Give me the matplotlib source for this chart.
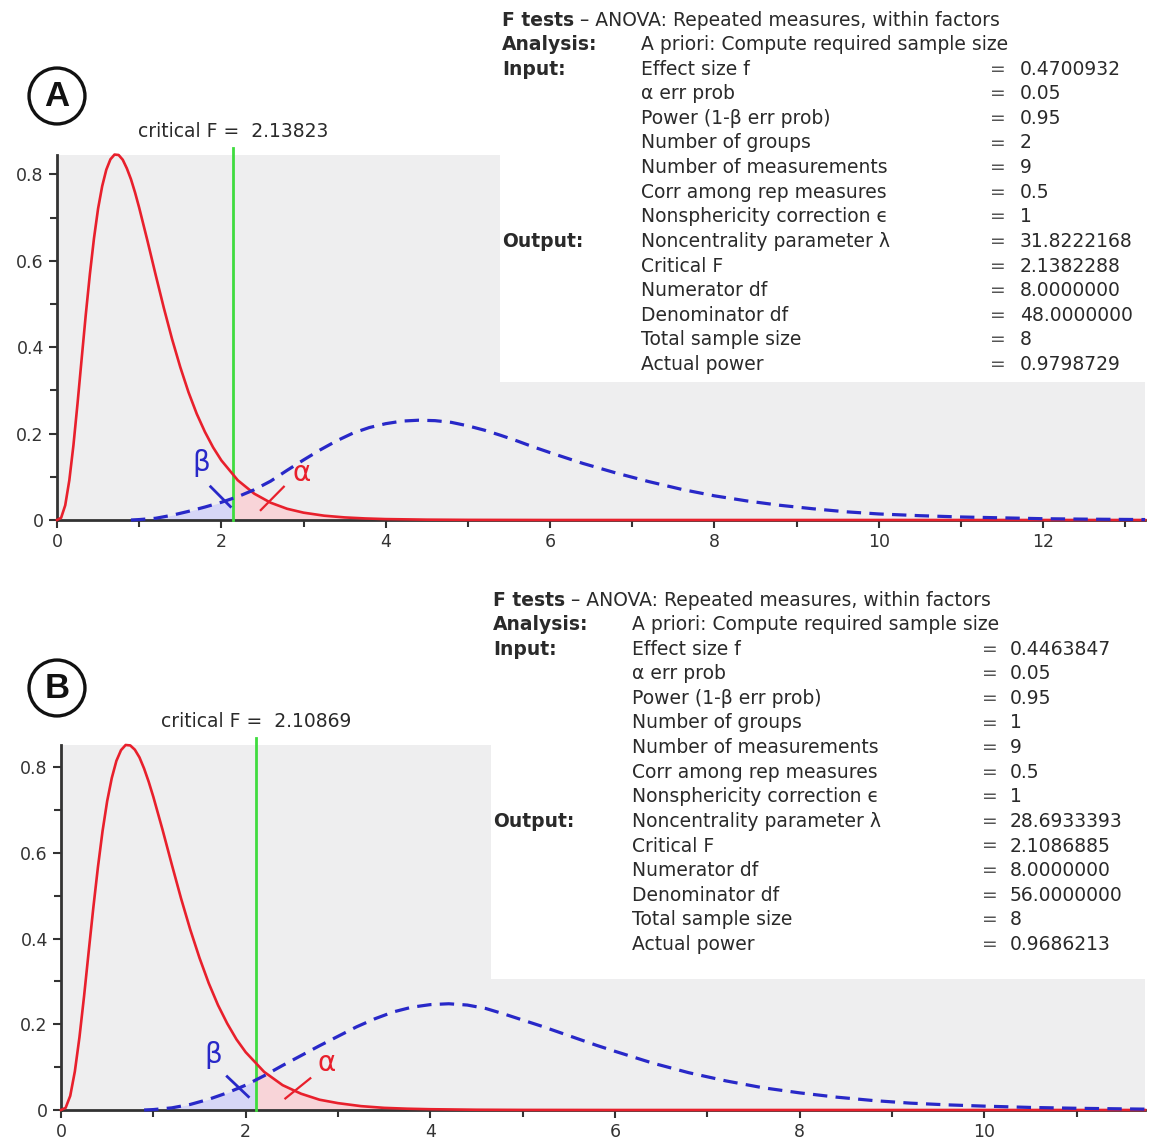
import numpy as np
import matplotlib.pyplot as plt
from matplotlib.patches import Rectangle
from matplotlib.text import Annotation
from matplotlib.ticker import MultipleLocator

# ---- panel A : central F(8,48) (red) and noncentral F (blue) ----
a_red_x = [0, 0.05, 0.1, 0.15, 0.2, 0.25, 0.3, 0.35, 0.4, 0.45, 0.5, 0.55, 0.6, 0.65, 0.7, 0.75,
           0.8, 0.85, 0.9, 0.95, 1.0, 1.1, 1.2, 1.3, 1.4, 1.5, 1.6, 1.7, 1.8, 1.9, 2.0, 2.2, 2.4,
           2.6, 2.8, 3.0, 3.25, 3.5, 3.75, 4.0, 4.5, 5.0, 6.0, 13.24]
a_red_y = [0, 0.005, 0.034, 0.092, 0.173, 0.270, 0.373, 0.475, 0.569, 0.652, 0.721, 0.773, 0.811,
           0.835, 0.846, 0.845, 0.834, 0.814, 0.789, 0.758, 0.723, 0.647, 0.568, 0.491, 0.419,
           0.354, 0.296, 0.246, 0.204, 0.168, 0.138, 0.092, 0.061, 0.040, 0.026, 0.017, 0.010,
           0.006, 0.0036, 0.0021, 0.0008, 0.0003, 0.0, 0.0]
a_blue_x = [0.9, 1.0, 1.2, 1.4, 1.6, 1.8, 2.0, 2.2, 2.4, 2.6, 2.8, 3.0, 3.2, 3.4, 3.6, 3.8, 4.0,
            4.2, 4.4, 4.6, 4.8, 5.0, 5.2, 5.4, 5.6, 5.8, 6.0, 6.4, 6.8, 7.2, 7.6, 8.0, 8.4, 8.8,
            9.2, 9.6, 10.0, 10.5, 11.0, 11.5, 12.0, 12.5, 13.24]
a_blue_y = [0.0, 0.001, 0.004, 0.011, 0.020, 0.030, 0.041, 0.054, 0.070, 0.090, 0.115, 0.139,
            0.162, 0.183, 0.201, 0.214, 0.223, 0.229, 0.231, 0.230, 0.226, 0.218, 0.208, 0.196,
            0.183, 0.169, 0.156, 0.131, 0.109, 0.089, 0.071, 0.056, 0.044, 0.034, 0.026, 0.019,
            0.014, 0.010, 0.007, 0.005, 0.003, 0.002, 0.001]
a_crit = 2.13823
a_values = ["0.4700932", "0.05", "0.95", "2", "9", "0.5", "1", "31.8222168", "2.1382288",
            "8.0000000", "48.0000000", "8", "0.9798729"]

# ---- panel B : central F(8,56) (red) and noncentral F (blue) ----
b_red_x = [0, 0.05, 0.1, 0.15, 0.2, 0.25, 0.3, 0.35, 0.4, 0.45, 0.5, 0.55, 0.6, 0.65, 0.7, 0.75,
           0.8, 0.85, 0.9, 0.95, 1.0, 1.1, 1.2, 1.3, 1.4, 1.5, 1.6, 1.7, 1.8, 1.9, 2.0, 2.2, 2.4,
           2.6, 2.8, 3.0, 3.25, 3.5, 3.75, 4.0, 4.5, 5.0, 6.0, 11.74]
b_red_y = [0, 0.005, 0.033, 0.090, 0.170, 0.266, 0.370, 0.472, 0.567, 0.651, 0.721, 0.775, 0.815,
           0.840, 0.852, 0.851, 0.841, 0.823, 0.797, 0.766, 0.731, 0.654, 0.573, 0.494, 0.421,
           0.355, 0.296, 0.245, 0.202, 0.165, 0.135, 0.089, 0.058, 0.038, 0.024, 0.016, 0.009,
           0.005, 0.003, 0.0018, 0.0006, 0.0002, 0.0, 0.0]
b_blue_x = [0.9, 1.0, 1.2, 1.4, 1.6, 1.8, 2.0, 2.2, 2.4, 2.6, 2.8, 3.0, 3.2, 3.4, 3.6, 3.8, 4.0,
            4.2, 4.4, 4.6, 4.8, 5.0, 5.2, 5.4, 5.6, 5.8, 6.0, 6.4, 6.8, 7.2, 7.6, 8.0, 8.4, 8.8,
            9.2, 9.6, 10.0, 10.5, 11.0, 11.74]
b_blue_y = [0.0, 0.001, 0.005, 0.013, 0.025, 0.040, 0.058, 0.080, 0.104, 0.127, 0.150, 0.172,
            0.194, 0.213, 0.229, 0.240, 0.246, 0.248, 0.245, 0.237, 0.224, 0.210, 0.196, 0.181,
            0.166, 0.151, 0.137, 0.110, 0.087, 0.068, 0.052, 0.040, 0.030, 0.022, 0.016, 0.012,
            0.009, 0.006, 0.004, 0.002]
b_crit = 2.10869
b_values = ["0.4463847", "0.05", "0.95", "1", "9", "0.5", "1", "28.6933393", "2.1086885",
            "8.0000000", "56.0000000", "8", "0.9686213"]

row_labels = ["Effect size f", "α err prob", "Power (1-β err prob)", "Number of groups",
              "Number of measurements", "Corr among rep measures", "Nonsphericity correction ϵ",
              "Noncentrality parameter λ", "Critical F", "Numerator df", "Denominator df",
              "Total sample size", "Actual power"]

W, H = 1151, 1145
RED = "#e8202c"
BLUE = "#2828c8"
GREEN = "#3fdc3f"
TXT = "#2a2a2a"
FS = 13.5

fig = plt.figure(figsize=(W / 100, H / 100), dpi=100)


def px(x, y):
    # pixel (from top left) to figure fraction
    return x / W, 1 - y / H


def panel(rect, xr, yr, xb, yb, crit, xmax, ymax, xmajor_max):
    ax = fig.add_axes(rect)
    ax.set_facecolor("#eeeeef")
    ax.set_xlim(0, xmax)
    ax.set_ylim(0, ymax)
    for s in ["top", "right"]:
        ax.spines[s].set_visible(False)
    for s in ["left", "bottom"]:
        ax.spines[s].set_linewidth(2)
        ax.spines[s].set_color("#333333")
    ax.xaxis.set_minor_locator(MultipleLocator(1))
    ax.yaxis.set_minor_locator(MultipleLocator(0.1))
    ax.set_yticks([0, 0.2, 0.4, 0.6, 0.8])
    ax.set_yticklabels(["0", "0.2", "0.4", "0.6", "0.8"])
    xt = list(range(0, xmajor_max + 1, 2))
    ax.set_xticks(xt)
    ax.set_xticklabels([str(v) for v in xt])
    ax.tick_params(which="both", direction="out", color="#333333", width=1.5,
                   labelsize=12.5, labelcolor="#333333")
    ax.tick_params(which="major", length=6)
    ax.tick_params(which="minor", length=5)

    # shaded beta / alpha areas
    fb = ax.fill_between(xb, yb, color="#d6d6f6", lw=0, zorder=1)
    fb.set_clip_path(Rectangle((0, 0), crit, 1, transform=ax.transData))
    fr = ax.fill_between(xr, yr, color="#f8d4d8", lw=0, zorder=1)
    fr.set_clip_path(Rectangle((crit, 0), xmax, 1, transform=ax.transData))

    ax.plot(xr, yr, color=RED, lw=1.9, zorder=4, clip_on=False)
    ax.plot(xb, yb, color=BLUE, lw=2.3, ls=(0, (4.5, 2.6)), zorder=4, clip_on=False)
    ax.plot([crit, crit], [0, ymax * 1.02], color=GREEN, lw=2, zorder=3, clip_on=False)
    ax.text(crit, ymax * 1.065, "critical F =  %.5f" % crit, ha="center", va="center",
            fontsize=13.5, color=TXT)
    return ax


ax_a = panel([57 / W, 1 - 520 / H, (1145 - 57) / W, 365 / H],
             a_red_x, a_red_y, a_blue_x, a_blue_y, a_crit, 13.24, 0.845, 12)
ax_b = panel([61 / W, 1 - 1110 / H, (1145 - 61) / W, 365 / H],
             b_red_x, b_red_y, b_blue_x, b_blue_y, b_crit, 11.74, 0.852, 10)

# beta / alpha markers
ax_a.text(1.75, 0.131, "β", color=BLUE, fontsize=20, ha="center", va="center")
ax_a.plot([1.87, 2.11], [0.077, 0.031], color=BLUE, lw=2, zorder=5)
ax_a.text(2.98, 0.108, "α", color=RED, fontsize=20, ha="center", va="center")
ax_a.plot([2.48, 2.76], [0.023, 0.077], color=RED, lw=1.6, zorder=5)

ax_b.text(1.65, 0.128, "β", color=BLUE, fontsize=20, ha="center", va="center")
ax_b.plot([1.80, 2.03], [0.078, 0.031], color=BLUE, lw=2, zorder=5)
ax_b.text(2.88, 0.109, "α", color=RED, fontsize=20, ha="center", va="center")
ax_b.plot([2.43, 2.70], [0.027, 0.074], color=RED, lw=1.6, zorder=5)


def table(x0, y0, x1, y1, c0, c1, ceq, cval, top, values):
    # white panel over the plot area
    fig.add_artist(Rectangle(px(x0, y1), (x1 - x0) / W, (y1 - y0) / H,
                             transform=fig.transFigure, fc="white", ec="none", zorder=5))
    step = 24.6
    t = fig.text(*px(c0, top), "F tests", fontsize=FS, fontweight="bold", color=TXT,
                 va="center", zorder=6)
    fig.add_artist(Annotation(" – ANOVA: Repeated measures, within factors", xy=(1, 0),
                              xycoords=t, va="bottom", fontsize=FS, color=TXT, zorder=6))
    fig.text(*px(c0, top + step), "Analysis:", fontsize=FS, fontweight="bold", color=TXT,
             va="center", zorder=6)
    fig.text(*px(c1, top + step), "A priori: Compute required sample size", fontsize=FS,
             color=TXT, va="center", zorder=6)
    fig.text(*px(c0, top + 2 * step), "Input:", fontsize=FS, fontweight="bold", color=TXT,
             va="center", zorder=6)
    fig.text(*px(c0, top + 9 * step), "Output:", fontsize=FS, fontweight="bold", color=TXT,
             va="center", zorder=6)
    for i, (lab, val) in enumerate(zip(row_labels, values)):
        y = top + (i + 2) * step
        fig.text(*px(c1, y), lab, fontsize=FS, color=TXT, va="center", zorder=6)
        fig.text(*px(ceq, y), "=", fontsize=FS, color="#555555", va="center", zorder=6)
        fig.text(*px(cval, y), val, fontsize=FS, color=TXT, va="center", zorder=6)


table(500, 0, W, 382, 502, 641, 990, 1020, 20, a_values)
table(491, 585, W, 979, 493, 632, 982, 1010, 600, b_values)

# panel letters
for lab, y in [("A", 96), ("B", 688)]:
    fig.text(*px(57, y), lab, fontsize=25, fontweight="bold", family="Liberation Sans",
             ha="center", va="center", color="#111111",
             bbox=dict(boxstyle="circle,pad=0.33", fc="white", ec="#111111", lw=2.4))

fig.savefig("out.png", dpi=100)
